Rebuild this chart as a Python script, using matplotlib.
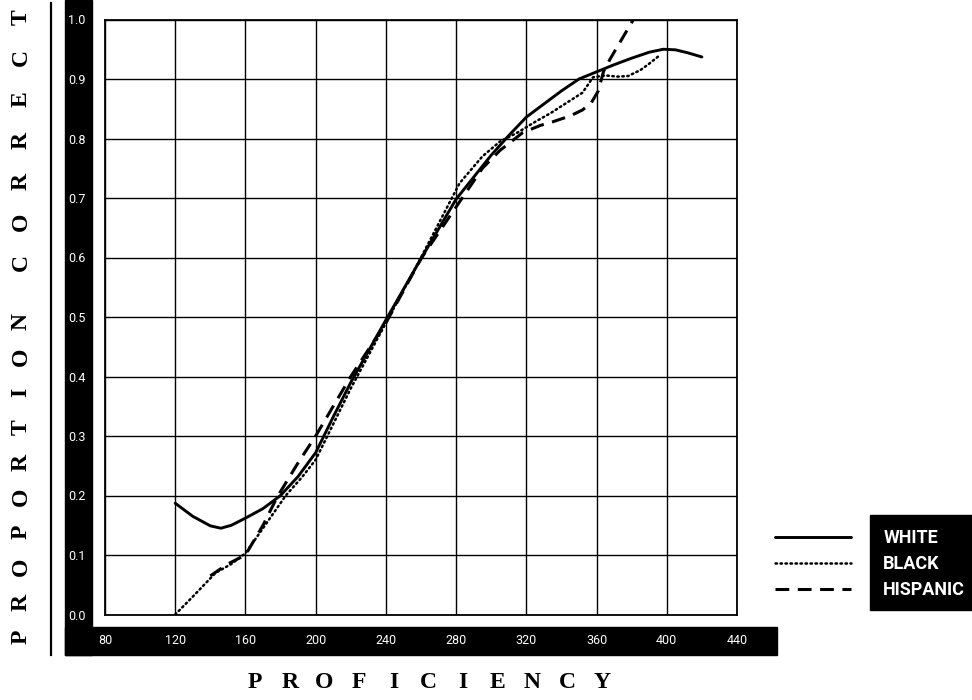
import numpy as np
import matplotlib
matplotlib.use('Agg')
import matplotlib.pyplot as plt
from matplotlib import font_manager
from matplotlib.patches import Rectangle
from matplotlib.lines import Line2D

# proportion correct vs. proficiency, by group
white_x = [120, 130, 140, 146, 152, 160, 170, 180, 190, 200, 210, 220, 240, 260,
           280, 300, 310, 320, 330, 340, 350, 360, 370, 380, 390, 398, 405, 412, 420]
white_y = [0.187, 0.165, 0.149, 0.145, 0.150, 0.162, 0.178, 0.200, 0.232, 0.272,
           0.332, 0.390, 0.495, 0.598, 0.698, 0.772, 0.805, 0.836, 0.858, 0.880,
           0.900, 0.912, 0.924, 0.935, 0.945, 0.950, 0.949, 0.944, 0.937]

black_x = [120, 130, 143, 152, 160, 170, 183, 192, 200, 220, 240, 260, 282, 295,
           305, 315, 325, 334, 343, 352, 358, 365, 372, 378, 385, 391, 396]
black_y = [0.0, 0.030, 0.070, 0.085, 0.103, 0.145, 0.200, 0.230, 0.260, 0.380,
           0.490, 0.600, 0.725, 0.770, 0.795, 0.810, 0.828, 0.843, 0.860, 0.877,
           0.903, 0.906, 0.904, 0.905, 0.915, 0.928, 0.940]

hisp_x = [140, 150, 160, 170, 178, 190, 200, 220, 240, 260, 280, 295, 305, 318,
          328, 335, 345, 352, 357, 361, 364, 368, 373, 377, 381, 385]
hisp_y = [0.065, 0.085, 0.100, 0.150, 0.197, 0.255, 0.300, 0.400, 0.490, 0.598,
          0.685, 0.750, 0.780, 0.810, 0.822, 0.828, 0.838, 0.848, 0.860, 0.880,
          0.913, 0.935, 0.960, 0.980, 1.000, 1.020]

x_ticks = [80, 120, 160, 200, 240, 280, 320, 360, 400, 440]
y_ticks = [0.0, 0.1, 0.2, 0.3, 0.4, 0.5, 0.6, 0.7, 0.8, 0.9, 1.0]
groups = ['WHITE', 'BLACK', 'HISPANIC']

available = {f.name for f in font_manager.fontManager.ttflist}
narrow = 'Roboto' if 'Roboto' in available else 'DejaVu Sans'
serif = 'Liberation Serif' if 'Liberation Serif' in available else 'DejaVu Serif'

W, H = 972, 700
fig = plt.figure(figsize=(W / 100, H / 100), dpi=100)
fig.patch.set_facecolor('white')


def fx(px):
    return px / W


def fy(py):
    return 1 - py / H


ax = fig.add_axes([fx(105), fy(614.5), fx(737) - fx(105), fy(19.5) - fy(614.5)])

# black bands carrying the tick labels
fig.add_artist(Rectangle((fx(65), fy(655)), fx(92) - fx(65), fy(0) - fy(655),
                         transform=fig.transFigure, color='black', zorder=-1))
fig.add_artist(Rectangle((fx(65), fy(655)), fx(777) - fx(65), fy(627) - fy(655),
                         transform=fig.transFigure, color='black', zorder=-1))
fig.add_artist(Line2D([fx(51), fx(51)], [fy(3), fy(655)], transform=fig.transFigure,
                      color='black', lw=1.6))

l1, = ax.plot(white_x, white_y, color='black', lw=2.1, ls='-', solid_capstyle='round')
l2, = ax.plot(black_x, black_y, color='black', lw=1.8, ls=(0, (0.6, 1.4)),
              dash_capstyle='round')
l3, = ax.plot(hisp_x, hisp_y, color='black', lw=2.2, ls=(0, (4.5, 2.8)))

ax.set_xlim(80, 440)
ax.set_ylim(0, 1)
ax.set_xticks(x_ticks)
ax.set_yticks(y_ticks)
ax.set_xticklabels([str(v) for v in x_ticks])
ax.set_yticklabels(['%.1f' % v for v in y_ticks])
ax.grid(True, color='black', lw=1.0)
ax.set_axisbelow(True)
for s in ax.spines.values():
    s.set_linewidth(1.3)
ax.tick_params(length=0, labelcolor='white')
ax.tick_params(axis='x', pad=14)
ax.tick_params(axis='y', pad=14)
for lab in ax.get_xticklabels() + ax.get_yticklabels():
    lab.set_fontfamily(narrow)
    lab.set_fontsize(9)

# spaced-out axis titles
x_title = 'PROFICIENCY'
pitch = 34.7
cx = 428.5
for i, ch in enumerate(x_title):
    px = cx + (i - (len(x_title) - 1) / 2) * pitch
    fig.text(fx(px), fy(682), ch, ha='center', va='center', fontsize=17,
             fontfamily=serif, fontweight='bold')

# y title, read bottom to top: (word, position of first letter, letter pitch)
y_words = [('PROPORTION', 637, 35.0), ('CORRECT', 263, 41.0)]
for word, start, step in y_words:
    for i, ch in enumerate(word):
        fig.text(fx(21), fy(start - i * step), ch, ha='center', va='center',
                 rotation=90, fontsize=17, fontfamily=serif, fontweight='bold')

# legend: lines outside, names in a black box
fig.add_artist(Rectangle((fx(870), fy(610)), fx(972) - fx(870), fy(515) - fy(610),
                         transform=fig.transFigure, color='black', zorder=4))
leg = fig.legend([l1, l2, l3], groups, loc='upper left',
                 bbox_to_anchor=(fx(775), fy(529)), frameon=False,
                 borderpad=0, borderaxespad=0, handlelength=4.2,
                 handletextpad=1.8, labelspacing=0.45, labelcolor='white',
                 prop=dict(family=narrow, size=13, weight='bold'))
leg.set_zorder(5)

fig.savefig('out.png', dpi=100)
